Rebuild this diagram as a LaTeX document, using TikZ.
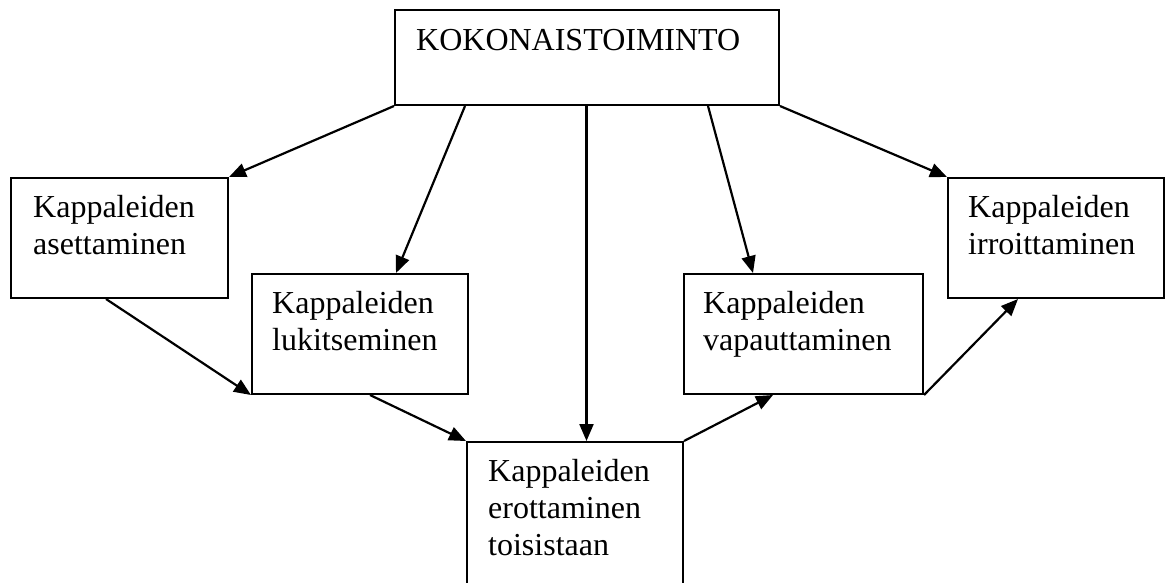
\documentclass[tikz,border=0pt]{standalone}
\usepackage{fontspec}
\setmainfont{Liberation Serif}
\usetikzlibrary{arrows.meta}
\begin{document}
\begin{tikzpicture}[x=1pt,y=-1pt,
  box/.style={draw, line width=2pt, inner sep=0pt, anchor=north west},
  lbl/.style={anchor=base west, inner sep=0pt, font=\fontsize{32}{37}\selectfont},
  arr/.style={line width=2.2pt, -{Triangle[length=17pt,width=14pt]}}]
\useasboundingbox (0,0) rectangle (1165,582);
% boxes
\node[box, minimum width=384pt, minimum height=95pt] (top) at (394,9) {};
\node[box, minimum width=217pt, minimum height=120pt] (aset) at (10,177) {};
\node[box, minimum width=216pt, minimum height=120pt] (luk) at (251,273) {};
\node[box, minimum width=216pt, minimum height=170pt] (ero) at (466,441) {};
\node[box, minimum width=239pt, minimum height=120pt] (vap) at (683,273) {};
\node[box, minimum width=216pt, minimum height=120pt] (irr) at (947,177) {};
% texts
\node[lbl] (ttop) at (416,50) {KOKONAISTOIMINTO};
\node[lbl] (taset) at (33,217) {\begin{tabular}[t]{@{}l@{}}Kappaleiden\\asettaminen\end{tabular}};
\node[lbl] (tluk) at (272,313) {\begin{tabular}[t]{@{}l@{}}Kappaleiden\\lukitseminen\end{tabular}};
\node[lbl] (tero) at (488,481) {\begin{tabular}[t]{@{}l@{}}Kappaleiden\\erottaminen\\toisistaan\end{tabular}};
\node[lbl] (tvap) at (703,313) {\begin{tabular}[t]{@{}l@{}}Kappaleiden\\vapauttaminen\end{tabular}};
\node[lbl] (tirr) at (968,217) {\begin{tabular}[t]{@{}l@{}}Kappaleiden\\irroittaminen\end{tabular}};
% connectors
\draw[arr] (top.south west) -- (aset.north east);
\draw[arr] ([xshift=71pt]top.south west) -- ([xshift=145pt]luk.north west);
\draw[arr] ([xshift=192.5pt]top.south west) -- ([xshift=120.5pt]ero.north west);
\draw[arr] ([xshift=314pt]top.south west) -- ([xshift=70pt]vap.north west);
\draw[arr] (top.south east) -- (irr.north west);
\draw[arr] ([xshift=96pt]aset.south west) -- (luk.south west);
\draw[arr] ([xshift=119pt]luk.south west) -- (ero.north west);
\draw[arr] (ero.north east) -- ([xshift=90pt]vap.south west);
\draw[arr] (vap.south east) -- ([xshift=71pt]irr.south west);
\end{tikzpicture}
\end{document}
